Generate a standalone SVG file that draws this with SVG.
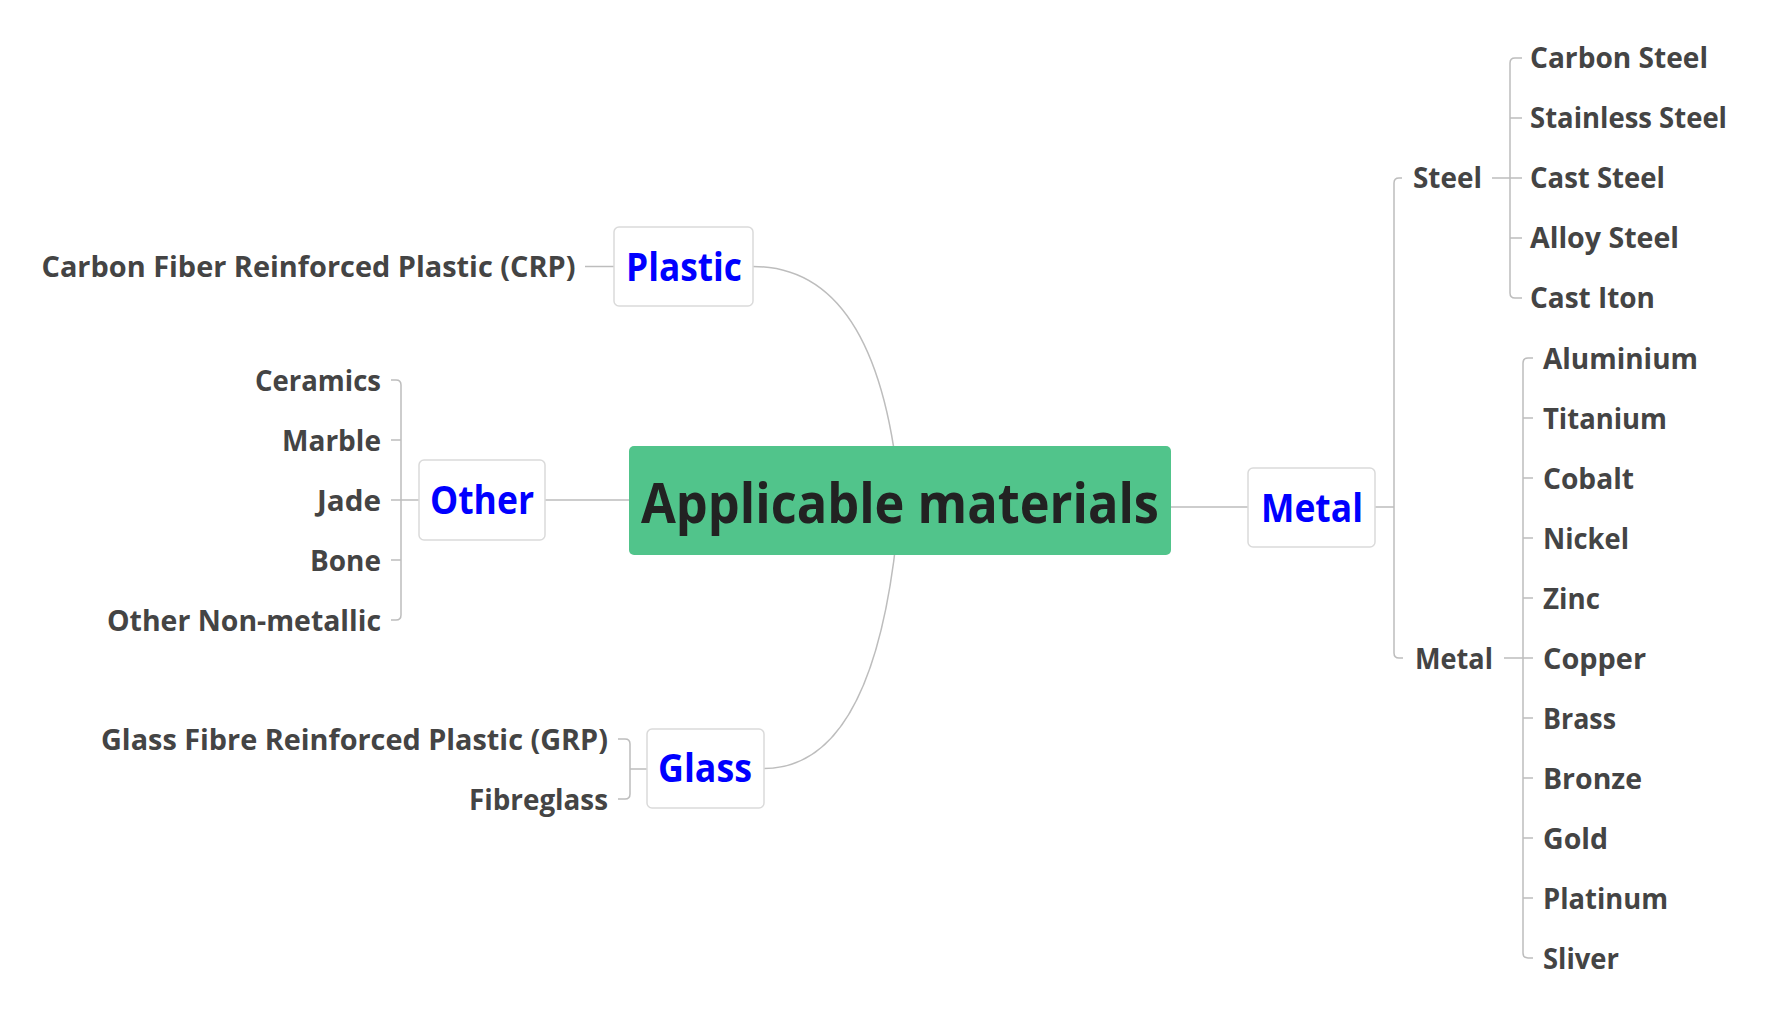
<svg xmlns="http://www.w3.org/2000/svg" width="1780" height="1020" viewBox="0 0 1780 1020">
<style>
.bg{fill:#ffffff}
.con{fill:none;stroke:#BDBDBD;stroke-width:1.5}
.box{fill:#ffffff;stroke:#DADADA;stroke-width:1.5}
.root{fill:#51C48B}
.rt{font-family:"Open Sans","Noto Sans",sans-serif;font-weight:700;font-size:55px;fill:#222222}
.t1{font-family:"Open Sans","Noto Sans",sans-serif;font-weight:700;font-size:39px;fill:#0000FF}
.t2{font-family:"Open Sans","Noto Sans",sans-serif;font-weight:700;font-size:29px;fill:#444444}
</style>
<rect class="bg" x="0" y="0" width="1780" height="1020"/>
<g id="connectors">
<path class="con" d="M753,266.5 Q880,266.5 900,500"/>
<path class="con" d="M764,768.5 Q880,768.5 900,500"/>
<path class="con" d="M545,500 H629"/>
<path class="con" d="M1171,507 H1248"/>
<path class="con" d="M1375,507 H1394"/>
<path class="con" d="M1402,178 H1399 Q1394,178 1394,183 V653 Q1394,658 1399,658 H1403"/>
<path class="con" d="M1492,178 H1522"/>
<path class="con" d="M1522,58 H1515 Q1510,58 1510,63 V293 Q1510,298 1515,298 H1522"/>
<path class="con" d="M1510,118 H1522 M1510,238 H1522"/>
<path class="con" d="M1504,658 H1533"/>
<path class="con" d="M1533,358 H1528 Q1523,358 1523,363 V953 Q1523,958 1528,958 H1533"/>
<path class="con" d="M1523,418 H1533 M1523,478 H1533 M1523,538 H1533 M1523,598 H1533 M1523,718 H1533 M1523,778 H1533 M1523,838 H1533 M1523,898 H1533"/>
<path class="con" d="M391,380 H396 Q401,380 401,385 V615 Q401,620 396,620 H391"/>
<path class="con" d="M391,440 H401 M391,500 H419 M391,560 H401"/>
<path class="con" d="M618,739 H625 Q630,739 630,744 V794 Q630,799 625,799 H618"/>
<path class="con" d="M630,769 H647"/>
<path class="con" d="M585,266.5 H614"/>
</g>
<g id="node-root">
<rect class="root" x="629" y="446" width="542" height="109" rx="5"/>
<text class="rt" x="641" y="523" textLength="518" lengthAdjust="spacingAndGlyphs">Applicable materials</text>
</g>
<g id="node-plastic">
<rect class="box" x="614" y="227" width="139" height="79" rx="5"/>
<text class="t1" x="626" y="281" textLength="116" lengthAdjust="spacingAndGlyphs">Plastic</text>
</g>
<g id="node-other">
<rect class="box" x="419" y="460" width="126" height="80" rx="5"/>
<text class="t1" x="430" y="514" textLength="104" lengthAdjust="spacingAndGlyphs">Other</text>
</g>
<g id="node-glass">
<rect class="box" x="647" y="729" width="117" height="79" rx="5"/>
<text class="t1" x="658" y="782" textLength="94" lengthAdjust="spacingAndGlyphs">Glass</text>
</g>
<g id="node-metal">
<rect class="box" x="1248" y="468" width="127" height="79" rx="5"/>
<text class="t1" x="1261" y="521.5" textLength="102" lengthAdjust="spacingAndGlyphs">Metal</text>
</g>
<g id="node-crp"><text class="t2" x="41.5" y="277" textLength="534" lengthAdjust="spacingAndGlyphs">Carbon Fiber Reinforced Plastic (CRP)</text></g>
<g id="node-ceramics"><text class="t2" x="255" y="390.5" textLength="126" lengthAdjust="spacingAndGlyphs">Ceramics</text></g>
<g id="node-marble"><text class="t2" x="282" y="450.5" textLength="99" lengthAdjust="spacingAndGlyphs">Marble</text></g>
<g id="node-jade"><text class="t2" x="317" y="510.5" textLength="64" lengthAdjust="spacingAndGlyphs">Jade</text></g>
<g id="node-bone"><text class="t2" x="310" y="570.5" textLength="71" lengthAdjust="spacingAndGlyphs">Bone</text></g>
<g id="node-other-nonmetallic"><text class="t2" x="107" y="630.5" textLength="274" lengthAdjust="spacingAndGlyphs">Other Non-metallic</text></g>
<g id="node-grp"><text class="t2" x="101" y="749.5" textLength="507" lengthAdjust="spacingAndGlyphs">Glass Fibre Reinforced Plastic (GRP)</text></g>
<g id="node-fibreglass"><text class="t2" x="469" y="809.5" textLength="139" lengthAdjust="spacingAndGlyphs">Fibreglass</text></g>
<g id="node-steel"><text class="t2" x="1413" y="188" textLength="69" lengthAdjust="spacingAndGlyphs">Steel</text></g>
<g id="node-metal-sub"><text class="t2" x="1415" y="668.5" textLength="78" lengthAdjust="spacingAndGlyphs">Metal</text></g>
<g id="node-carbon-steel"><text class="t2" x="1530" y="68" textLength="178" lengthAdjust="spacingAndGlyphs">Carbon Steel</text></g>
<g id="node-stainless-steel"><text class="t2" x="1530" y="128" textLength="197" lengthAdjust="spacingAndGlyphs">Stainless Steel</text></g>
<g id="node-cast-steel"><text class="t2" x="1530" y="188" textLength="135" lengthAdjust="spacingAndGlyphs">Cast Steel</text></g>
<g id="node-alloy-steel"><text class="t2" x="1530" y="248" textLength="149" lengthAdjust="spacingAndGlyphs">Alloy Steel</text></g>
<g id="node-cast-iton"><text class="t2" x="1530" y="308" textLength="125" lengthAdjust="spacingAndGlyphs">Cast Iton</text></g>
<g id="node-aluminium"><text class="t2" x="1543" y="368.5" textLength="155" lengthAdjust="spacingAndGlyphs">Aluminium</text></g>
<g id="node-titanium"><text class="t2" x="1543" y="428.5" textLength="124" lengthAdjust="spacingAndGlyphs">Titanium</text></g>
<g id="node-cobalt"><text class="t2" x="1543" y="488.5" textLength="91" lengthAdjust="spacingAndGlyphs">Cobalt</text></g>
<g id="node-nickel"><text class="t2" x="1543" y="548.5" textLength="86" lengthAdjust="spacingAndGlyphs">Nickel</text></g>
<g id="node-zinc"><text class="t2" x="1543" y="608.5" textLength="57" lengthAdjust="spacingAndGlyphs">Zinc</text></g>
<g id="node-copper"><text class="t2" x="1543" y="668.5" textLength="103" lengthAdjust="spacingAndGlyphs">Copper</text></g>
<g id="node-brass"><text class="t2" x="1543" y="728.5" textLength="73" lengthAdjust="spacingAndGlyphs">Brass</text></g>
<g id="node-bronze"><text class="t2" x="1543" y="788.5" textLength="99" lengthAdjust="spacingAndGlyphs">Bronze</text></g>
<g id="node-gold"><text class="t2" x="1543" y="848.5" textLength="65" lengthAdjust="spacingAndGlyphs">Gold</text></g>
<g id="node-platinum"><text class="t2" x="1543" y="908.5" textLength="125" lengthAdjust="spacingAndGlyphs">Platinum</text></g>
<g id="node-sliver"><text class="t2" x="1543" y="968.5" textLength="76" lengthAdjust="spacingAndGlyphs">Sliver</text></g>
</svg>
